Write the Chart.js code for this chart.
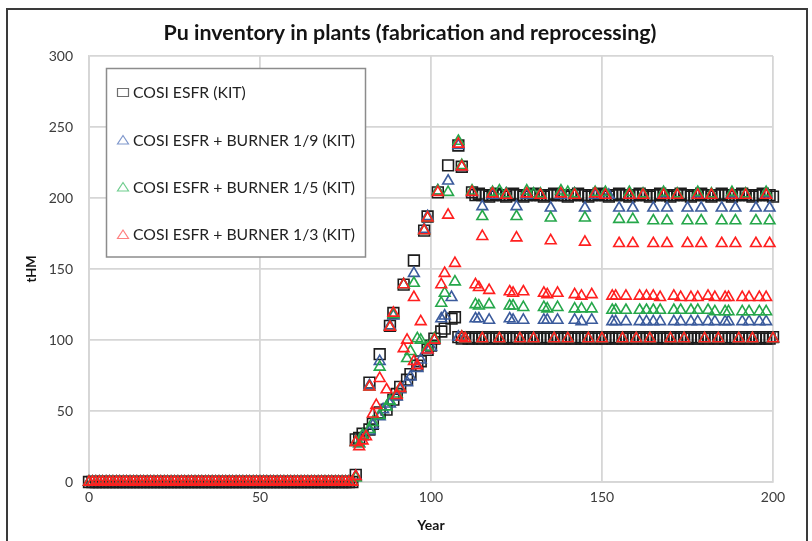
<!DOCTYPE html>
<html>
<head>
<meta charset="utf-8">
<script src="https://cdn.jsdelivr.net/npm/chart.js@4/dist/chart.umd.min.js"></script>
<style>
  html, body { margin: 0; padding: 0; background: #ffffff; }
  #wrap { position: relative; width: 812px; height: 541px; overflow: hidden; background: #fff; }
  #frame { position: absolute; left: 6px; top: 8px; width: 798px; height: 600px; border: 2px solid #3a3a3a; border-bottom: none; pointer-events: none; }
  canvas { position: absolute; left: 0; top: 0; }
</style>
</head>
<body>
<div id="wrap">
  <canvas id="c" width="812" height="541"></canvas>
  <div id="frame"></div>
</div>
<script>
// ---------------- DATA ----------------
const chartTitle = 'Pu inventory in plants (fabrication and reprocessing)';
const xAxisTitle = 'Year';
const yAxisTitle = 'tHM';
const seriesNames = ['COSI ESFR (KIT)', 'COSI ESFR + BURNER 1/9 (KIT)', 'COSI ESFR + BURNER 1/5 (KIT)', 'COSI ESFR + BURNER 1/3 (KIT)'];
const xTicks = [0, 50, 100, 150, 200];
const yTicks = [0, 50, 100, 150, 200, 250, 300];

// years before start-up (all scenarios at 0)
const startYears = [0,1,2,3,4,5,6,7,8,9,10,11,12,13,14,15,16,17,18,19,20,21,22,23,24,25,26,27,28,29,30,31,32,33,34,35,36,37,38,39,40,41,42,43,44,45,46,47,48,49,50,51,52,53,54,55,56,57,58,59,60,61,62,63,64,65,66,67,68,69,70,71,72,73,74,75,76,77];
const startValues = [0,0,0,0,0,0,0,0,0,0, 0,0,0,0,0,0,0,0,0,0, 0,0,0,0,0,0,0,0,0,0, 0,0,0,0,0,0,0,0,0,0, 0,0,0,0,0,0,0,0,0,0, 0,0,0,0,0,0,0,0,0,0, 0,0,0,0,0,0,0,0,0,0, 0,0,0,0,0,0,0,0];

// COSI ESFR (squares) [year, tHM]
const esfrFab = [[78,5],[79,31],[80,34],[82,37],[83,41],[85,49],[87,51],[89,58],[90,62],[91,67],[93,72],[94,76],[96,82],[97,85],[99,93],[100,96],[101,101],[103,106],[104,108],[106,115],[107,116],
[108,102],[109,101],[110,102],[111,101],[112,101],[113,102],[114,101],[115,101],[116,102],[117,101],[118,101],[119,102],[120,101],[121,101],[122,102],[123,101],[124,101],[125,102],[126,101],[127,101],[128,102],[129,101],[130,101],[131,102],[132,101],[133,101],[134,102],[135,101],[136,101],[137,102],[138,101],[139,101],[140,102],[141,101],[142,101],[143,102],[144,101],[145,101],[146,102],[147,101],[148,101],[149,102],[150,101],[151,101],[152,102],[153,101],[154,101],[155,102],[156,101],[157,101],[158,102],[159,101],[160,101],[161,102],[162,101],[163,101],[164,102],[165,101],[166,101],[167,102],[168,101],[169,101],[170,102],[171,101],[172,101],[173,102],[174,101],[175,101],[176,102],[177,101],[178,101],[179,102],[180,101],[181,101],[182,102],[183,101],[184,101],[185,102],[186,101],[187,101],[188,102],[189,101],[190,101],[191,102],[192,101],[193,101],[194,102],[195,101],[196,101],[197,102],[198,101],[199,101],[200,102]];
const esfrRep = [[78,30],[82,70],[85,90],[88,110],[89,119],[92,139],[95,156],[98,177],[99,187],[102,204],[105,223],[108,237],[109,222],[112,204],
[113,202],[114,203],[115,202],[116,202],[117,201],[118,202],[119,203],[120,202],[121,202],[122,201],[123,202],[124,203],[125,202],[126,202],[127,201],[128,202],[129,202],[130,203],[131,202],[132,202],[133,201],[134,202],[135,202],[136,203],[137,202],[138,202],[139,202],[140,201],[141,202],[142,202],[143,203],[144,202],[145,202],[146,201],[147,202],[148,202],[149,203],[150,202],[151,202],[152,201],[153,202],[154,202],[155,203],[156,202],[157,202],[158,201],[159,202],[160,202],[161,203],[162,202],[163,202],[164,201],[165,202],[166,202],[167,203],[168,202],[169,202],[170,201],[171,202],[172,202],[173,203],[174,202],[175,202],[176,201],[177,202],[178,202],[179,203],[180,202],[181,202],[182,201],[183,202],[184,202],[185,203],[186,202],[187,202],[188,201],[189,202],[190,202],[191,203],[192,202],[193,202],[194,201],[195,202],[196,202],[197,203],[198,202],[199,202],[200,201]];

// BURNER 1/9 (blue triangles)
const burner9Fab = [[78,4],[79,27],[80,32],[82,36],[83,40],[85,46],[86,51],[88,55],[90,60],[91,65],[93,70],[94,74],[96,80],[97,86],[99,93],[100,95],[101,100],[103,115],[104,117],[106,130],[108,102],[110,101],[113,115],[114,115],[115,101],[117,114],[120,101],[123,115],[124,114],[126,101],[127,114],[130,101],[133,114],[134,114],[136,101],[137,114],[140,101],[142,114],[144,113],[146,101],[147,114],[150,101],[153,113],[154,113],[156,101],[157,113],[160,101],[161,113],[163,113],[164,101],[165,113],[167,113],[170,101],[171,113],[173,113],[174,101],[176,113],[178,113],[180,101],[181,113],[183,113],[184,101],[186,113],[187,113],[190,101],[191,113],[193,113],[194,101],[196,113],[198,113],[200,101]];
const burner9Rep = [[78,28],[82,68],[85,85],[88,110],[89,117],[92,139],[95,147],[98,178],[99,187],[102,205],[105,212],[108,237],[109,222],[112,204],[115,194],[118,202],[122,203],[125,194],[128,202],[132,202],[135,193],[138,202],[142,203],[145,193],[148,202],[152,202],[155,193],[158,202],[159,193],[162,202],[165,193],[168,203],[169,193],[172,202],[175,193],[178,203],[179,193],[182,202],[185,193],[188,203],[189,193],[192,202],[195,193],[198,203],[199,193]];

// BURNER 1/5 (green triangles)
const burner5Fab = [[78,3],[79,27],[80,33],[82,37],[83,42],[85,47],[87,53],[88,57],[90,62],[91,66],[93,87],[94,92],[96,101],[97,100],[99,95],[101,101],[103,126],[104,133],[107,141],[109,102],[110,101],[113,125],[114,124],[115,101],[117,125],[120,101],[123,124],[124,124],[126,101],[127,123],[130,101],[133,123],[134,122],[136,101],[137,123],[140,101],[142,122],[144,122],[146,101],[147,122],[150,101],[153,121],[154,121],[156,101],[157,121],[160,101],[161,121],[163,121],[164,101],[165,121],[167,121],[170,101],[171,121],[173,121],[174,101],[176,121],[178,121],[180,101],[181,121],[183,120],[184,101],[186,120],[187,120],[190,101],[191,120],[193,120],[194,101],[196,120],[198,120],[200,101]];
const burner5Rep = [[78,28],[82,67],[85,81],[88,109],[89,118],[92,139],[95,140],[98,177],[99,186],[102,205],[105,204],[108,240],[109,223],[112,205],[115,187],[118,204],[120,205],[122,203],[125,187],[128,205],[130,203],[132,203],[135,186],[138,205],[140,204],[142,203],[145,186],[148,204],[151,204],[155,185],[158,204],[159,185],[162,203],[165,184],[168,204],[169,184],[172,203],[175,184],[178,204],[179,184],[182,203],[185,184],[188,204],[189,184],[192,203],[195,184],[198,204],[199,184]];

// BURNER 1/3 (red triangles)
const burner3Fab = [[78,4],[79,25],[80,29],[81,32],[83,48],[84,54],[85,73],[87,65],[90,61],[91,66],[92,94],[93,100],[95,85],[96,82],[97,113],[99,93],[101,100],[103,139],[104,147],[107,154],[109,102],[110,101],[113,139],[114,137],[115,101],[117,135],[120,101],[123,134],[124,133],[126,101],[127,134],[130,101],[133,133],[134,132],[136,101],[137,133],[140,101],[142,132],[144,131],[146,101],[147,132],[150,101],[153,131],[154,131],[156,101],[157,131],[160,101],[161,131],[163,131],[164,101],[165,131],[167,130],[170,101],[171,131],[173,130],[174,101],[176,130],[178,130],[180,101],[181,131],[183,130],[184,101],[186,130],[187,130],[190,101],[191,130],[193,130],[194,101],[196,130],[198,130],[200,101]];
const burner3Rep = [[78,28],[82,67],[88,109],[89,119],[92,139],[95,130],[98,177],[99,186],[102,204],[105,188],[108,238],[109,222],[112,204],[115,173],[118,203],[122,202],[125,172],[128,203],[132,202],[135,170],[138,203],[142,202],[145,169],[148,203],[151,202],[155,168],[158,202],[159,168],[162,202],[165,168],[168,202],[169,168],[172,202],[175,168],[178,202],[179,168],[182,202],[185,168],[188,202],[189,168],[192,202],[195,168],[198,202],[199,168]];

// ---------------- STYLE ----------------
const colors = ['#1c1c1c', '#3b5b9c', '#25a74a', '#ff1f1f'];
const legendColors = ['#6e6e6e', '#7f97cc', '#6fcd8e', '#ff7f7f'];
const FONT = 'Lato, "Open Sans", "DejaVu Sans", sans-serif';

function toPoints(pairs) { return pairs.map(p => ({ x: p[0], y: p[1] })); }
const startPoints = startYears.map((yr, i) => ({ x: yr, y: startValues[i] }));

function ds(label, pairs, withStart, idx) {
  return {
    label: label,
    data: (withStart ? startPoints : []).concat(toPoints(pairs)),
    showLine: false,
    pointStyle: idx === 0 ? 'rect' : 'triangle',
    pointRadius: idx === 0 ? 7.6 : 6.2,
    pointBorderWidth: 1.6,
    pointBorderColor: colors[idx],
    pointBackgroundColor: 'rgba(0,0,0,0)',
    borderColor: colors[idx],
    backgroundColor: 'rgba(0,0,0,0)',
    clip: false,
    order: 4 - idx
  };
}

const datasets = [
  ds(seriesNames[0], esfrFab, true, 0),
  ds(seriesNames[0], esfrRep, false, 0),
  ds(seriesNames[1], burner9Fab, true, 1),
  ds(seriesNames[1], burner9Rep, false, 1),
  ds(seriesNames[2], burner5Fab, true, 2),
  ds(seriesNames[2], burner5Rep, false, 2),
  ds(seriesNames[3], burner3Fab, true, 3),
  ds(seriesNames[3], burner3Rep, false, 3)
];

// font size that makes a text span a given width
function fitSize(ctx, text, weight, targetW) {
  ctx.font = weight + ' 20px ' + FONT;
  const w = ctx.measureText(text).width;
  return 20 * targetW / w;
}

const decor = {
  id: 'decor',
  afterDraw(chart) {
    const ctx = chart.ctx;
    const ca = chart.chartArea;
    ctx.save();
    // title
    ctx.fillStyle = '#141414';
    const ts = fitSize(ctx, chartTitle, 'bold', 493);
    ctx.font = 'bold ' + ts.toFixed(2) + 'px ' + FONT;
    ctx.textAlign = 'center';
    ctx.textBaseline = 'middle';
    ctx.fillText(chartTitle, 410, 33);
    // x title
    ctx.font = 'bold 14px ' + FONT;
    ctx.fillText(xAxisTitle, (ca.left + ca.right) / 2, 525);
    // y title
    ctx.save();
    ctx.translate(32, (ca.top + ca.bottom) / 2);
    ctx.rotate(-Math.PI / 2);
    ctx.font = 'bold 13px ' + FONT;
    ctx.fillText(yAxisTitle, 0, 0);
    ctx.restore();
    // legend box
    const bx = 106.5, by = 68.5, bw = 259, bh = 188.5;
    ctx.fillStyle = '#ffffff';
    ctx.fillRect(bx, by, bw, bh);
    ctx.strokeStyle = '#8c8c8c';
    ctx.lineWidth = 1.5;
    ctx.strokeRect(bx, by, bw, bh);
    const rows = [92.5, 140, 187, 234.5];
    const ls = fitSize(ctx, seriesNames[1], '', 222);
    ctx.font = ls.toFixed(2) + 'px ' + FONT;
    ctx.textAlign = 'left';
    ctx.textBaseline = 'middle';
    seriesNames.forEach((name, i) => {
      const cy = rows[i];
      const mx = 123;
      ctx.strokeStyle = legendColors[i];
      ctx.lineWidth = 1.2;
      ctx.beginPath();
      if (i === 0) {
        ctx.rect(mx - 5.5, cy - 4, 11, 8);
      } else {
        ctx.moveTo(mx, cy - 4.5);
        ctx.lineTo(mx + 5.5, cy + 4);
        ctx.lineTo(mx - 5.5, cy + 4);
        ctx.closePath();
      }
      ctx.stroke();
      ctx.fillStyle = '#222222';
      ctx.fillText(name, 133, cy + 0.5);
    });
    ctx.restore();
  }
};

new Chart(document.getElementById('c'), {
  type: 'scatter',
  data: { datasets: datasets },
  options: {
    responsive: false,
    animation: false,
    events: [],
    devicePixelRatio: 1,
    layout: { padding: { top: 56, right: 39, bottom: 0, left: 0 } },
    plugins: { legend: { display: false }, title: { display: false }, tooltip: { enabled: false } },
    scales: {
      x: {
        type: 'linear', min: xTicks[0], max: xTicks[xTicks.length - 1],
        afterBuildTicks: s => { s.ticks = xTicks.map(v => ({ value: v })); },
        ticks: { font: { family: FONT, size: 14 }, color: '#3c3c3c', padding: 7, maxRotation: 0 },
        grid: { color: '#d6d6d6', lineWidth: 1.8, drawTicks: false },
        border: { color: '#d6d6d6', width: 1.8 },
        afterFit: s => { s.height = 59; }
      },
      y: {
        type: 'linear', min: yTicks[0], max: yTicks[yTicks.length - 1],
        afterBuildTicks: s => { s.ticks = yTicks.map(v => ({ value: v })); },
        ticks: { font: { family: FONT, size: 14 }, color: '#3c3c3c', padding: 16 },
        grid: { color: '#d6d6d6', lineWidth: 1.8, drawTicks: false },
        border: { color: '#d6d6d6', width: 1.8 },
        afterFit: s => { s.width = 89; }
      }
    }
  },
  plugins: [decor]
});
</script>
</body>
</html>
